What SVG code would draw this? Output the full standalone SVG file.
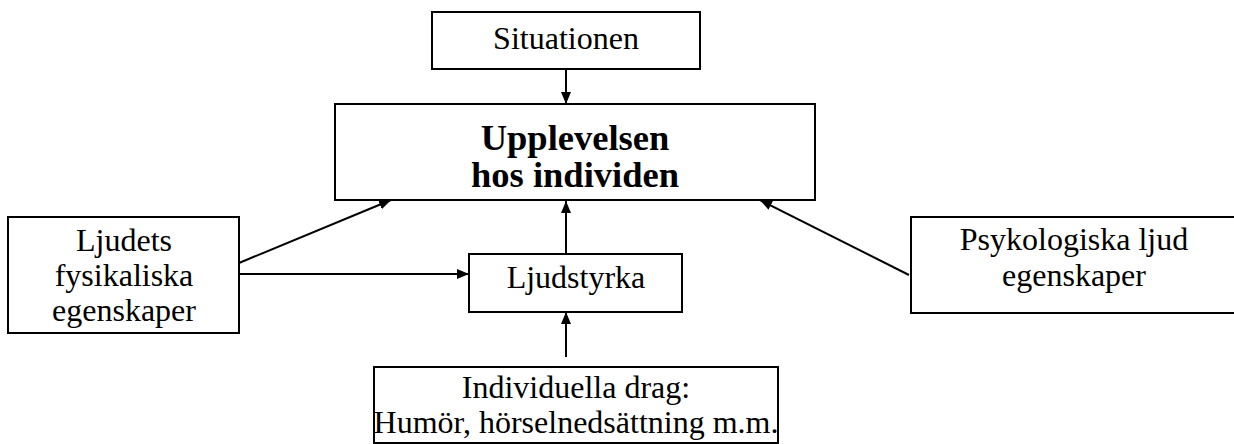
<svg xmlns="http://www.w3.org/2000/svg" width="1234" height="444" viewBox="0 0 1234 444">
<style>
.box{fill:#fff;stroke:#000;stroke-width:2}
.t{font-family:"Liberation Serif","Times New Roman",serif;font-size:32px;fill:#000;text-anchor:middle}
.b{font-weight:bold;font-size:36.5px}
.c{stroke:#000;stroke-width:2;fill:none;marker-end:url(#ah)}
</style>
<defs>
<marker id="ah" viewBox="0 0 12 10" refX="12" refY="5" markerWidth="12" markerHeight="10" markerUnits="userSpaceOnUse" orient="auto">
<path d="M0,0 L12,5 L0,10 Z" fill="#000"/>
</marker>
</defs>
<rect width="1234" height="444" fill="#fff"/>
<g id="connectors">
<line class="c" x1="566" y1="69" x2="566" y2="104"/>
<line class="c" x1="566" y1="254" x2="566" y2="201"/>
<line class="c" x1="566" y1="357" x2="566" y2="312"/>
<line class="c" x1="239" y1="263" x2="391" y2="200"/>
<line class="c" x1="239" y1="274" x2="469" y2="274"/>
<line class="c" x1="909" y1="275" x2="760" y2="200"/>
</g>
<g id="situationen">
<rect class="box" x="432" y="12" width="268" height="57"/>
<text class="t" x="566" y="49">Situationen</text>
</g>
<g id="upplevelsen">
<rect class="box" x="335" y="104" width="480" height="96"/>
<text class="t b" x="575" y="150">Upplevelsen</text>
<text class="t b" x="575" y="187">hos individen</text>
</g>
<g id="ljudets">
<rect class="box" x="8" y="217" width="231" height="116"/>
<text class="t" x="124" y="251">Ljudets</text>
<text class="t" x="124" y="286">fysikaliska</text>
<text class="t" x="124" y="321">egenskaper</text>
</g>
<g id="ljudstyrka">
<rect class="box" x="469" y="254" width="213" height="58"/>
<text class="t" x="576" y="288">Ljudstyrka</text>
</g>
<g id="psykologiska">
<rect class="box" x="911" y="217" width="330" height="96"/>
<text class="t" x="1074" y="250">Psykologiska ljud</text>
<text class="t" x="1074" y="286">egenskaper</text>
</g>
<g id="individuella">
<rect class="box" x="374" y="367" width="404" height="76"/>
<text class="t" x="576" y="398">Individuella drag:</text>
<text class="t" x="576" y="433">Humör, hörselnedsättning m.m.</text>
</g>
</svg>
